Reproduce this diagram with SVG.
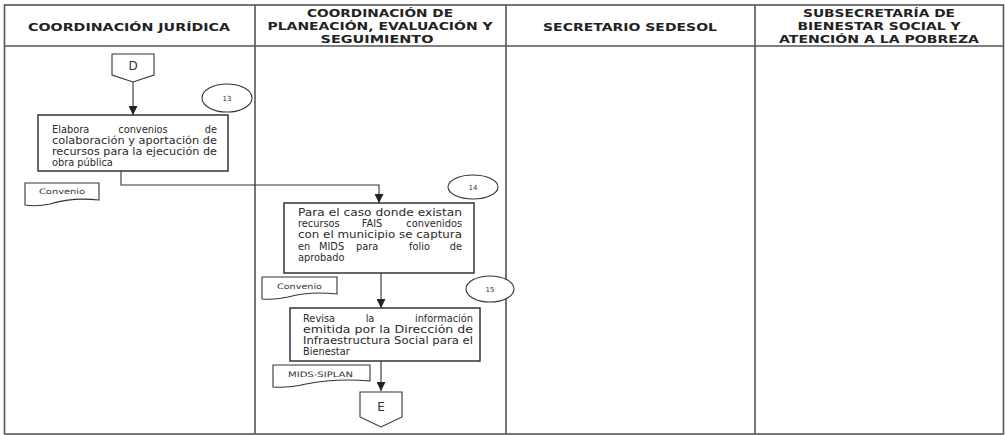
<svg xmlns="http://www.w3.org/2000/svg" width="1005" height="435" viewBox="0 0 1005 435">
<style>
.tbl{fill:none;stroke:#555;stroke-width:1.6}
.hd{font-family:"DejaVu Sans","Liberation Sans",sans-serif;font-weight:bold;font-size:10.5px;fill:#222;text-anchor:middle}
.bx{fill:#fff;stroke:#333;stroke-width:1.5}
.sh{fill:#fff;stroke:#333;stroke-width:1.1}
.tx{font-family:"DejaVu Sans","Liberation Sans",sans-serif;font-size:9.8px;fill:#2a2a2a}
.mid{text-anchor:middle}
.end{text-anchor:end}
.sm{font-family:"DejaVu Sans","Liberation Sans",sans-serif;font-size:7.5px;fill:#333}
.nm{font-family:"DejaVu Sans","Liberation Sans",sans-serif;font-size:7px;fill:#333;text-anchor:middle}
.cn{font-family:"DejaVu Sans","Liberation Sans",sans-serif;font-size:12px;fill:#333;text-anchor:middle}
.ln{fill:none;stroke:#333;stroke-width:1.1}
</style>
<defs>
<marker id="ah" viewBox="0 0 10 10" refX="10" refY="5" markerWidth="9" markerHeight="9" markerUnits="userSpaceOnUse" orient="auto">
<path d="M0,0 L10,5 L0,10 Z" fill="#222"/>
</marker>
</defs>
<rect width="1005" height="435" fill="#fff"/>
<g id="table">
<rect class="tbl" x="4.5" y="5" width="999" height="429"/>
<line class="tbl" x1="4.5" y1="46" x2="1003.5" y2="46"/>
<line class="tbl" x1="255" y1="5" x2="255" y2="434"/>
<line class="tbl" x1="506" y1="5" x2="506" y2="434"/>
<line class="tbl" x1="755" y1="5" x2="755" y2="434"/>
<text class="hd" x="129" y="31" textLength="202" lengthAdjust="spacingAndGlyphs">COORDINACIÓN JURÍDICA</text>
<text class="hd" x="380" y="17" textLength="146" lengthAdjust="spacingAndGlyphs">COORDINACIÓN DE</text>
<text class="hd" x="380" y="30" textLength="225" lengthAdjust="spacingAndGlyphs">PLANEACIÓN, EVALUACIÓN Y</text>
<text class="hd" x="377" y="43" textLength="113" lengthAdjust="spacingAndGlyphs">SEGUIMIENTO</text>
<text class="hd" x="630" y="31" textLength="174" lengthAdjust="spacingAndGlyphs">SECRETARIO SEDESOL</text>
<text class="hd" x="879" y="17" textLength="152" lengthAdjust="spacingAndGlyphs">SUBSECRETARÍA DE</text>
<text class="hd" x="879" y="30" textLength="163" lengthAdjust="spacingAndGlyphs">BIENESTAR SOCIAL Y</text>
<text class="hd" x="879" y="43" textLength="200" lengthAdjust="spacingAndGlyphs">ATENCIÓN A LA POBREZA</text>
</g>
<g id="connectors">
<line class="ln" x1="133" y1="82" x2="133" y2="115" marker-end="url(#ah)"/>
<polyline class="ln" points="121,171 121,185 379,185 379,203" stroke="#555" marker-end="url(#ah)"/>
<line class="ln" x1="381" y1="273" x2="381" y2="308" marker-end="url(#ah)"/>
<line class="ln" x1="381" y1="361" x2="381" y2="391" marker-end="url(#ah)"/>
</g>
<g id="D">
<path class="sh" d="M112,54 H154 V75 L133,82 L112,75 Z"/>
<text class="cn" x="133" y="70">D</text>
</g>
<g id="n13">
<ellipse class="sh" cx="227" cy="98" rx="25" ry="14"/>
<text class="nm" x="227" y="101">13</text>
</g>
<g id="box13">
<rect class="bx" x="38" y="115" width="190" height="56"/>
<text class="tx" x="52" y="133">Elabora</text>
<text class="tx mid" x="143" y="133">convenios</text>
<text class="tx end" x="217" y="133">de</text>
<text class="tx" x="52" y="144" textLength="165" lengthAdjust="spacingAndGlyphs">colaboración y aportación de</text>
<text class="tx" x="52" y="155" textLength="165" lengthAdjust="spacingAndGlyphs">recursos para la ejecución de</text>
<text class="tx" x="52" y="166">obra pública</text>
</g>
<g id="doc1">
<path class="sh" d="M25,183 H99 V200 Q72,197 50,204 Q37,207 25,205 Z"/>
<text class="sm" x="39" y="194" textLength="46" lengthAdjust="spacingAndGlyphs">Convenio</text>
</g>
<g id="n14">
<ellipse class="sh" cx="473" cy="187" rx="25" ry="12"/>
<text class="nm" x="473" y="190">14</text>
</g>
<g id="box14">
<rect class="bx" x="284" y="203" width="190" height="70"/>
<text class="tx" x="298" y="216" textLength="164" lengthAdjust="spacingAndGlyphs">Para el caso donde existan</text>
<text class="tx" x="298" y="227">recursos</text>
<text class="tx mid" x="372" y="227">FAIS</text>
<text class="tx end" x="462" y="227">convenidos</text>
<text class="tx" x="298" y="238" textLength="164" lengthAdjust="spacingAndGlyphs">con el municipio se captura</text>
<text class="tx" x="298" y="249.5">en</text>
<text class="tx" x="319" y="249.5">MIDS</text>
<text class="tx" x="356" y="249.5">para</text>
<text class="tx" x="409" y="249.5">folio</text>
<text class="tx end" x="462" y="249.5">de</text>
<text class="tx" x="298" y="261">aprobado</text>
</g>
<g id="doc2">
<path class="sh" d="M262,277 H337 V294 Q310,291 288,297 Q274,300 262,299 Z"/>
<text class="sm" x="277" y="289" textLength="45" lengthAdjust="spacingAndGlyphs">Convenio</text>
</g>
<g id="n15">
<ellipse class="sh" cx="490" cy="289" rx="24" ry="13"/>
<text class="nm" x="490" y="292">15</text>
</g>
<g id="box15">
<rect class="bx" x="290" y="308" width="190" height="53"/>
<text class="tx" x="303" y="322">Revisa</text>
<text class="tx mid" x="370" y="322">la</text>
<text class="tx end" x="473" y="322">información</text>
<text class="tx" x="303" y="333" textLength="170" lengthAdjust="spacingAndGlyphs">emitida por la Dirección de</text>
<text class="tx" x="303" y="344" textLength="170" lengthAdjust="spacingAndGlyphs">Infraestructura Social para el</text>
<text class="tx" x="303" y="355">Bienestar</text>
</g>
<g id="doc3">
<path class="sh" d="M273,365 H370 V381 Q336,378 306,384 Q288,388 273,387 Z"/>
<text class="sm" x="288" y="377" textLength="65" lengthAdjust="spacingAndGlyphs">MIDS-SIPLAN</text>
</g>
<g id="E">
<path class="sh" d="M360,392 H402 V417 L381,427 L360,417 Z"/>
<text class="cn" x="381" y="411">E</text>
</g>
</svg>
